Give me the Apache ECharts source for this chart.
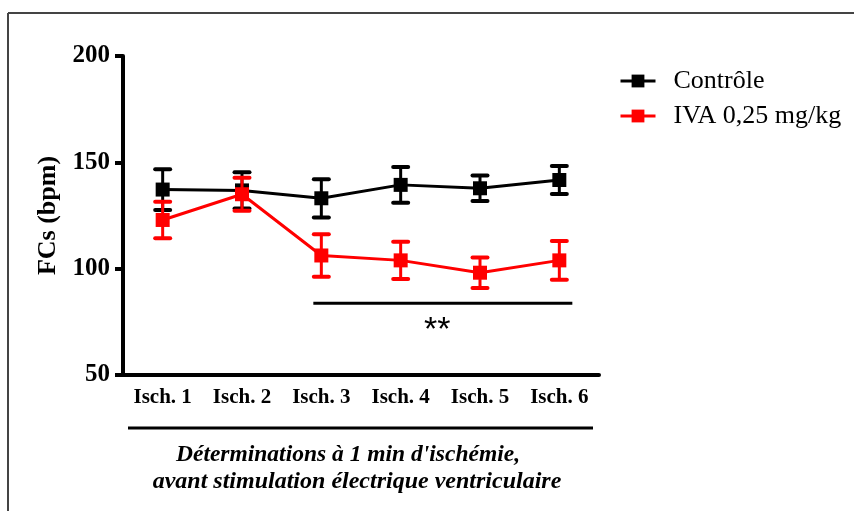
<!DOCTYPE html>
<html>
<head>
<meta charset="utf-8">
<script src="https://cdn.jsdelivr.net/npm/echarts@6/dist/echarts.min.js"></script>
<style>
html,body{margin:0;padding:0;background:#fff;}
#chart{width:854px;height:511px;}
</style>
</head>
<body>
<div id="chart"></div>
<script>
var categories = ['Isch. 1','Isch. 2','Isch. 3','Isch. 4','Isch. 5','Isch. 6'];
var controlMean = [137.2, 136.8, 133.1, 139.4, 137.8, 141.7];
var controlSem  = [9.6, 8.5, 9.0, 8.4, 6.0, 6.6];
var ivaMean     = [122.9, 135.0, 106.2, 103.9, 98.1, 103.9];
var ivaSem      = [8.6, 7.8, 10.0, 8.8, 7.2, 9.1];
var yTicks = [50, 100, 150, 200];
var seriesNames = ['Contrôle', 'IVA 0,25 mg/kg'];
var sigFrom = 'Isch. 3', sigTo = 'Isch. 6', sigValue = 83.7, sigLabel = '**';
var xTitle = ['Déterminations à 1 min d\'ischémie,', 'avant stimulation électrique ventriculaire'];
var yTitle = 'FCs (bpm)';

var FONT = "'Liberation Serif','Times New Roman',serif";

function errData(mean, sem) {
  return mean.map(function (m, i) { return [i, m - sem[i], m + sem[i]]; });
}
function errSeries(name, color, mean, sem) {
  return {
    type: 'custom',
    name: name,
    data: errData(mean, sem),
    z: color === 'red' ? 6 : 3,
    silent: true,
    renderItem: function (params, api) {
      var x = api.value(0);
      var lo = api.coord([x, api.value(1)]);
      var hi = api.coord([x, api.value(2)]);
      var hw = 7.5;
      return {
        type: 'group',
        children: [
          {type: 'line', shape: {x1: lo[0], y1: lo[1], x2: hi[0], y2: hi[1]}, style: {stroke: color, lineWidth: 3}},
          {type: 'line', shape: {x1: lo[0] - hw, y1: lo[1], x2: lo[0] + hw, y2: lo[1]}, style: {stroke: color, lineWidth: 4, lineCap: 'round'}},
          {type: 'line', shape: {x1: hi[0] - hw, y1: hi[1], x2: hi[0] + hw, y2: hi[1]}, style: {stroke: color, lineWidth: 4, lineCap: 'round'}}
        ]
      };
    }
  };
}

var chart = echarts.init(document.getElementById('chart'), null, {renderer: 'canvas'});
var option = {
  animation: false,
  backgroundColor: '#fff',
  grid: {left: 123, right: 255, top: 56, bottom: 136, containLabel: false},
  legend: {
    orient: 'vertical',
    left: 614,
    top: 63,
    itemWidth: 35,
    itemHeight: 16,
    itemGap: 9,
    data: seriesNames,
    lineStyle: {width: 3},
    textStyle: {fontFamily: FONT, fontSize: 26, color: '#000', padding: [0, 0, 0, 13]}
  },
  xAxis: {
    type: 'category',
    data: categories,
    boundaryGap: true,
    axisLine: {lineStyle: {color: '#000', width: 4}},
    axisTick: {alignWithLabel: true, length: 8, lineStyle: {color: '#000', width: 3}},
    axisLabel: {fontFamily: FONT, fontSize: 21, fontWeight: 'bold', color: '#000', margin: 12}
  },
  yAxis: {
    type: 'value',
    min: yTicks[0],
    max: yTicks[yTicks.length - 1],
    interval: 50,
    name: yTitle,
    nameLocation: 'middle',
    nameGap: 60,
    nameTextStyle: {fontFamily: FONT, fontSize: 26, fontWeight: 'bold', color: '#000'},
    splitLine: {show: false},
    axisLine: {show: true, lineStyle: {color: '#000', width: 4}},
    axisTick: {show: true, length: 8, lineStyle: {color: '#000', width: 4}},
    axisLabel: {fontFamily: FONT, fontSize: 25, fontWeight: 'bold', color: '#000', margin: 13}
  },
  series: [
    {
      name: seriesNames[0], type: 'line', data: controlMean,
      symbol: 'rect', symbolSize: 14, z: 4,
      lineStyle: {color: '#000', width: 3}, itemStyle: {color: '#000'}
    },
    errSeries(seriesNames[0], '#000', controlMean, controlSem),
    {
      name: seriesNames[1], type: 'line', data: ivaMean,
      symbol: 'rect', symbolSize: 14, z: 7,
      lineStyle: {color: 'red', width: 3}, itemStyle: {color: 'red'}
    },
    errSeries(seriesNames[1], 'red', ivaMean, ivaSem)
  ]
};
chart.setOption(option);

var pFrom = chart.convertToPixel({gridIndex: 0}, [sigFrom, sigValue]);
var pTo = chart.convertToPixel({gridIndex: 0}, [sigTo, sigValue]);
chart.setOption({
  graphic: [
    {type: 'line', shape: {x1: 8, y1: 13, x2: 8, y2: 511}, style: {stroke: '#444', lineWidth: 2}},
    {type: 'line', shape: {x1: 8, y1: 13, x2: 854, y2: 13}, style: {stroke: '#444', lineWidth: 2}},
    {type: 'line', shape: {x1: pFrom[0] - 8, y1: pFrom[1], x2: pTo[0] + 13, y2: pTo[1]}, style: {stroke: '#000', lineWidth: 3}},
    {type: 'text', x: (pFrom[0] + pTo[0]) / 2 - 3, y: pFrom[1] + 27, style: {text: sigLabel, fontFamily: "'Liberation Sans',Arial,sans-serif", fontSize: 34, fill: '#000', align: 'center', verticalAlign: 'middle'}},
    {type: 'line', shape: {x1: 128, y1: 428, x2: 593, y2: 428}, style: {stroke: '#000', lineWidth: 3}},
    {type: 'text', x: 348, y: 455, style: {text: xTitle[0], fontFamily: FONT, fontSize: 23.5, fontWeight: 'bold', fontStyle: 'italic', fill: '#000', align: 'center', verticalAlign: 'middle'}},
    {type: 'text', x: 357, y: 482, style: {text: xTitle[1], fontFamily: FONT, fontSize: 24, fontWeight: 'bold', fontStyle: 'italic', fill: '#000', align: 'center', verticalAlign: 'middle'}}
  ]
});
</script>
</body>
</html>
